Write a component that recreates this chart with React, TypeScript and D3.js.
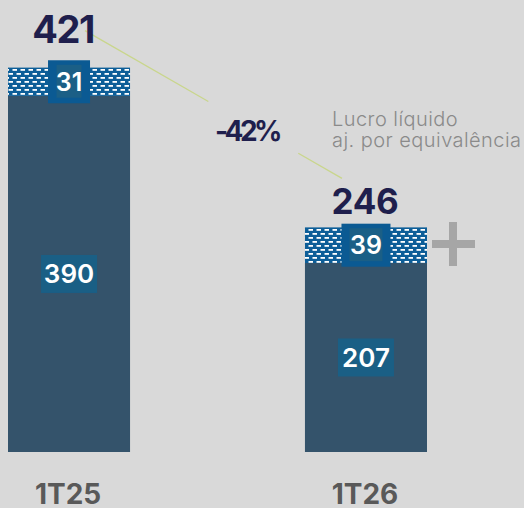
import React from "react";
import * as d3 from "d3";

const categories = ["1T25", "1T26"];
const baseValues = [390, 207];
const equityValues = [31, 39];
const totals = [421, 246];
const changeLabel = "-42%";
const legendLines = ["Lucro líquido", "aj. por equivalência"];

const W = 524;
const H = 508;
const FONT = "Inter, 'DejaVu Sans', sans-serif";

export default function App() {
  const x = d3.scaleBand<string>().domain(categories).range([8, 427]).paddingInner(0.589).paddingOuter(0);
  const y = d3.scaleLinear().domain([0, 421]).range([452, 67.6]);
  const bw = x.bandwidth();

  const cx = (i: number) => (x(categories[i]) as number) + bw / 2;
  const topY = (i: number) => y(baseValues[i] + equityValues[i]);

  // connector line endpoints
  const p0 = { x: cx(0) + 16, y: topY(0) - 37 };
  const p1 = { x: cx(1) - 24, y: topY(1) - 49 };
  const lerp = (t: number) => ({ x: p0.x + (p1.x - p0.x) * t, y: p0.y + (p1.y - p0.y) * t });
  const a = lerp(0.48);
  const b = lerp(0.83);

  return (
    <div style={{ position: "fixed", left: 0, top: 0, width: W, height: H, overflow: "hidden" }}>
      <svg width={W} height={H} style={{ display: "block", background: "#d9d9d9" }}>
        <defs>
          <pattern id="hatch" width="8" height="8" patternUnits="userSpaceOnUse" x="0" y="0">
            <rect width="8" height="8" fill="#0d5e98" />
            <rect x="0.5" y="1" width="4.5" height="1.8" fill="#ffffff" />
            <rect x="4.5" y="5" width="4.5" height="1.8" fill="#ffffff" />
            <rect x="-3.5" y="5" width="4.5" height="1.8" fill="#ffffff" />
          </pattern>
        </defs>
        <rect width={W} height={H} fill="#d9d9d9" />

        {/* connector line */}
        <line x1={p0.x} y1={p0.y} x2={a.x} y2={a.y} stroke="#c9d68c" strokeWidth={1.3} />
        <line x1={b.x} y1={b.y} x2={p1.x} y2={p1.y} stroke="#c9d68c" strokeWidth={1.3} />

        {categories.map((c, i) => {
          const x0 = x(c) as number;
          const yBaseTop = y(baseValues[i]);
          const yTop = y(baseValues[i] + equityValues[i]);
          const yBottom = y(0);
          const midBase = (yBaseTop + yBottom) / 2;
          const midEq = (yTop + yBaseTop) / 2;
          const center = cx(i);
          const baseLabelW = 56;
          const eqOuterW = i === 0 ? 42 : 49;
          const eqInnerW = i === 0 ? 25 : 33;
          return (
            <g key={c}>
              <rect x={x0} y={yBaseTop} width={bw} height={yBottom - yBaseTop} fill="#34536b" />
              <rect x={x0} y={yTop} width={bw} height={yBaseTop - yTop} fill="url(#hatch)" />
              {/* base value label */}
              <rect x={center - baseLabelW / 2} y={midBase - 19} width={baseLabelW} height={38} fill="#1a5f85" />
              <text x={center} y={midBase + 9.5} textAnchor="middle" fill="#ffffff" fontFamily={FONT} fontWeight={600} fontSize={26}>
                {baseValues[i]}
              </text>
              {/* equity label */}
              <rect x={center - eqOuterW / 2} y={midEq - 21.5} width={eqOuterW} height={43} fill="#0b5a93" />
              <rect x={center - eqInnerW / 2} y={midEq - 17} width={eqInnerW} height={33} fill="#1b5f86" />
              <text x={center} y={midEq + 9} textAnchor="middle" fill="#ffffff" fontFamily={FONT} fontWeight={600} fontSize={25}>
                {equityValues[i]}
              </text>
              {/* total */}
              <text x={center - (i === 0 ? 6 : 1)} y={yTop - (i === 0 ? 24.5 : 13)} textAnchor="middle" fill="#1f1f4d" fontFamily={FONT} fontWeight={700} fontSize={i === 0 ? 38 : 35} letterSpacing={i === 0 ? -1.5 : -0.3}>
                {totals[i]}
              </text>
              {/* category label */}
              <text x={center - 1} y={504} textAnchor="middle" fill="#595959" fontFamily={FONT} fontWeight={700} fontSize={28}>
                {c}
              </text>
            </g>
          );
        })}

        {/* change label */}
        <text x={247} y={141} textAnchor="middle" fill="#1f1f4d" fontFamily={FONT} fontWeight={700} fontSize={28} letterSpacing={-3.5}>
          {changeLabel}
        </text>

        {/* legend */}
        {legendLines.map((l, i) => (
          <text key={l} x={332} y={126 + i * 21} fill="#8a8a8a" fontFamily={FONT} fontWeight={300} fontSize={20} letterSpacing={0.45}>
            {l}
          </text>
        ))}

        {/* plus sign */}
        <rect x={432} y={240} width={43} height={8} fill="#a6a6a6" />
        <rect x={449} y={222} width={8} height={44} fill="#a6a6a6" />
      </svg>
    </div>
  );
}
